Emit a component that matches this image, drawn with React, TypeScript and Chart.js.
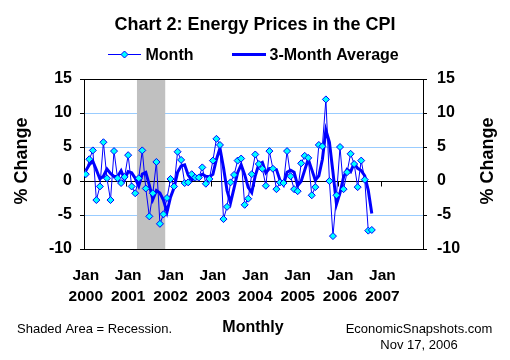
import { useEffect, useRef } from 'react';
import { Chart, registerables } from 'chart.js';

Chart.register(...registerables);

// Monthly % change in CPI energy prices, Jan 2000 .. Oct 2006
const monthChange: number[] = [
  1.0, 3.2, 4.5, -2.8, -0.8, 5.7, 0.4, -2.8, 4.4, 0.4, -0.3, 0.6,
  3.8, -0.8, -1.8, 0.4, 4.5, -1.1, -5.2, -1.8, 2.8, -6.3, -4.9, -2.5,
  0.3, -0.8, 4.3, 3.1, -0.3, -0.2, 1.0, 0.5, 0.5, 2.0, -0.4, 0.3,
  3.0, 6.2, 5.3, -5.6, -3.8, -0.2, 0.9, 3.0, 3.3, -3.5, -2.6, 1.0,
  3.9, 2.5, 1.8, -0.7, 4.4, 1.8, -1.2, -0.2, -0.3, 4.4, 0.7, -1.2,
  -1.5, 2.6, 3.7, 3.4, -2.1, -0.9, 5.3, 5.1, 12.0, 0.0, -8.1, -2.1,
  5.0, -1.2, 1.3, 4.0, 2.5, -0.9, 3.0, 0.2, -7.3, -7.2,
];

// 3-month average, Jan 2000 .. Oct 2006
const threeMonthAvg: number[] = [
  1.5, 2.4, 2.90, 1.63, 0.30, 0.70, 1.77, 1.10, 0.67, 0.67, 1.50, 0.23,
  1.37, 1.20, 0.40, -0.73, 1.03, 1.27, -0.60, -2.70, -1.40, -1.77, -2.80, -4.57,
  -2.37, -1.00, 1.27, 2.20, 2.37, 0.87, 0.17, 0.43, 0.67, 1.00, 0.70, 0.63,
  0.97, 3.17, 4.83, 1.97, -1.37, -3.20, -1.03, 1.23, 2.40, 0.93, -0.93, -1.70,
  0.77, 2.47, 2.73, 1.20, 1.83, 1.83, 1.67, 0.13, -0.57, 1.30, 1.60, 1.30,
  -0.67, -0.03, 1.60, 3.23, 1.67, 0.13, 0.77, 3.17, 7.47, 5.70, 1.30, -3.40,
  -1.73, 0.57, 1.70, 1.37, 2.60, 1.87, 1.53, 0.77, -1.37, -4.77,
];

const yearLabels: string[] = ['2000', '2001', '2002', '2003', '2004', '2005', '2006', '2007'];
const monthsPerYear = 12;
const totalMonths = 96; // Jan 2000 .. Dec 2007 on the axis
// Recession (Mar 2001 - Nov 2001), as month-index bounds
const recessionStart = 14.5;
const recessionEnd = 22.5;

const yMin = -10;
const yMax = 15;
const yStep = 5;

const FONT = '"Liberation Sans", Arial, Helvetica, sans-serif';
const BLUE = '#0000FF';
const CYAN = '#00FFFF';
const GRID = '#99CCFF';

const overlayPlugin = {
  id: 'overlay',
  beforeDatasetsDraw(chart: any) {
    const { ctx, chartArea: a, scales } = chart;
    const x = scales.x;
    const y = scales.y;
    ctx.save();
    // recession shading
    const x0 = x.getPixelForValue(recessionStart);
    const x1 = x.getPixelForValue(recessionEnd);
    ctx.fillStyle = '#C0C0C0';
    ctx.fillRect(x0, a.top + 1, x1 - x0, a.bottom - a.top - 1);
    // zero axis line with year tick marks
    const y0 = Math.round(y.getPixelForValue(0)) + 0.5;
    ctx.strokeStyle = '#000';
    ctx.lineWidth = 1;
    ctx.beginPath();
    ctx.moveTo(a.left, y0);
    ctx.lineTo(a.right, y0);
    for (let k = 0; k <= yearLabels.length; k++) {
      const px = Math.round(x.getPixelForValue(k * monthsPerYear - 0.5)) + 0.5;
      if (px <= a.left + 1 || px >= a.right - 1) continue;
      ctx.moveTo(px, y0);
      ctx.lineTo(px, y0 + 5);
    }
    ctx.stroke();
    ctx.restore();
  },
  afterDraw(chart: any) {
    const { ctx } = chart;
    ctx.save();
    ctx.fillStyle = '#000';
    ctx.textBaseline = 'alphabetic';
    // title
    ctx.font = `bold 18px ${FONT}`;
    ctx.textAlign = 'center';
    ctx.fillText('Chart 2: Energy Prices in the CPI', 255, 29.5);
    // legend
    ctx.font = `bold 16px ${FONT}`;
    ctx.textAlign = 'left';
    ctx.strokeStyle = BLUE;
    ctx.lineWidth = 1;
    ctx.beginPath();
    ctx.moveTo(108, 54.5);
    ctx.lineTo(141, 54.5);
    ctx.stroke();
    ctx.beginPath();
    const cx = 124.5, cy = 54.5, r = 3.5;
    ctx.moveTo(cx - r, cy);
    ctx.lineTo(cx, cy - r);
    ctx.lineTo(cx + r, cy);
    ctx.lineTo(cx, cy + r);
    ctx.closePath();
    ctx.fillStyle = CYAN;
    ctx.fill();
    ctx.stroke();
    ctx.fillStyle = '#000';
    ctx.fillText('Month', 145.5, 60);
    ctx.lineWidth = 3;
    ctx.beginPath();
    ctx.moveTo(232, 54.5);
    ctx.lineTo(266, 54.5);
    ctx.stroke();
    ctx.fillText('3-Month Average', 269.5, 60);
    // axis titles
    ctx.font = `bold 18px ${FONT}`;
    ctx.textAlign = 'center';
    ctx.textBaseline = 'middle';
    ctx.save();
    ctx.translate(22, 161);
    ctx.rotate(-Math.PI / 2);
    ctx.fillText('% Change', 0, 0);
    ctx.restore();
    ctx.save();
    ctx.translate(488, 161);
    ctx.rotate(-Math.PI / 2);
    ctx.fillText('% Change', 0, 0);
    ctx.restore();
    ctx.textBaseline = 'alphabetic';
    ctx.font = `bold 16px ${FONT}`;
    ctx.fillText('Monthly', 253, 331.5);
    ctx.font = `13px ${FONT}`;
    ctx.textAlign = 'left';
    ctx.fillText('Shaded Area = Recession.', 17, 333);
    ctx.textAlign = 'center';
    ctx.fillText('EconomicSnapshots.com', 419, 332.5);
    ctx.fillText('Nov 17, 2006', 419, 349);
    ctx.restore();
  },
};

export default function App() {
  const ref = useRef<HTMLCanvasElement | null>(null);

  useEffect(() => {
    if (!ref.current) return;
    const tickFont = { family: FONT, size: 16, weight: 'bold' as const };
    const chart = new Chart(ref.current, {
      type: 'line',
      data: {
        datasets: [
          {
            label: 'Month',
            data: monthChange.map((v, i) => ({ x: i, y: v })),
            borderColor: BLUE,
            borderWidth: 1,
            pointStyle: 'rectRot',
            pointRadius: 3.5,
            pointBackgroundColor: CYAN,
            pointBorderColor: BLUE,
            pointBorderWidth: 1,
            tension: 0,
          },
          {
            label: '3-Month Average',
            data: threeMonthAvg.map((v, i) => ({ x: i, y: v })),
            borderColor: BLUE,
            borderWidth: 3,
            pointRadius: 0,
            tension: 0,
          },
        ],
      },
      options: {
        responsive: false,
        animation: false,
        events: [],
        layout: { padding: { top: 79, left: 0, right: 0, bottom: 0 } },
        plugins: {
          legend: { display: false },
          title: { display: false },
          tooltip: { enabled: false },
        },
        scales: {
          x: {
            type: 'linear',
            min: -0.5,
            max: totalMonths - 0.5,
            afterBuildTicks: (s: any) => {
              s.ticks = yearLabels.map((_, k) => ({ value: k * monthsPerYear }));
            },
            afterFit: (s: any) => {
              s.height = 111;
            },
            ticks: {
              autoSkip: false,
              maxRotation: 0,
              minRotation: 0,
              padding: 15.5,
              color: '#000',
              font: { family: FONT, size: 15.5, weight: 'bold', lineHeight: 21.5 / 15.5 },
              callback: (v: any) => ['Jan', yearLabels[Math.round(Number(v) / monthsPerYear)]],
            },
            grid: { display: false, drawTicks: false },
            border: { display: true, color: '#000', width: 1 },
          },
          y: {
            position: 'left',
            min: yMin,
            max: yMax,
            afterFit: (s: any) => {
              s.width = 84;
            },
            ticks: { stepSize: yStep, padding: 8, color: '#000', font: tickFont },
            grid: {
              color: (c: any) => {
                const v = c.tick ? c.tick.value : null;
                return v === 0 || v === yMin || v === yMax ? '#000' : GRID;
              },
              tickColor: '#000',
              tickLength: 4,
              lineWidth: 1,
            },
            border: { color: '#000', width: 1 },
          },
          y2: {
            position: 'right',
            min: yMin,
            max: yMax,
            afterFit: (s: any) => {
              s.width = 87;
            },
            ticks: { stepSize: yStep, padding: 10, color: '#000', font: tickFont },
            grid: { drawOnChartArea: false, tickColor: '#000', tickLength: 4 },
            border: { color: '#000', width: 1 },
          },
        },
      },
      plugins: [overlayPlugin],
    });
    return () => chart.destroy();
  }, []);

  return (
    <div style={{ position: 'fixed', left: 0, top: 0, width: 510, height: 360, background: '#fff' }}>
      <canvas ref={ref} width={510} height={360} style={{ width: 510, height: 360, display: 'block' }} />
    </div>
  );
}
